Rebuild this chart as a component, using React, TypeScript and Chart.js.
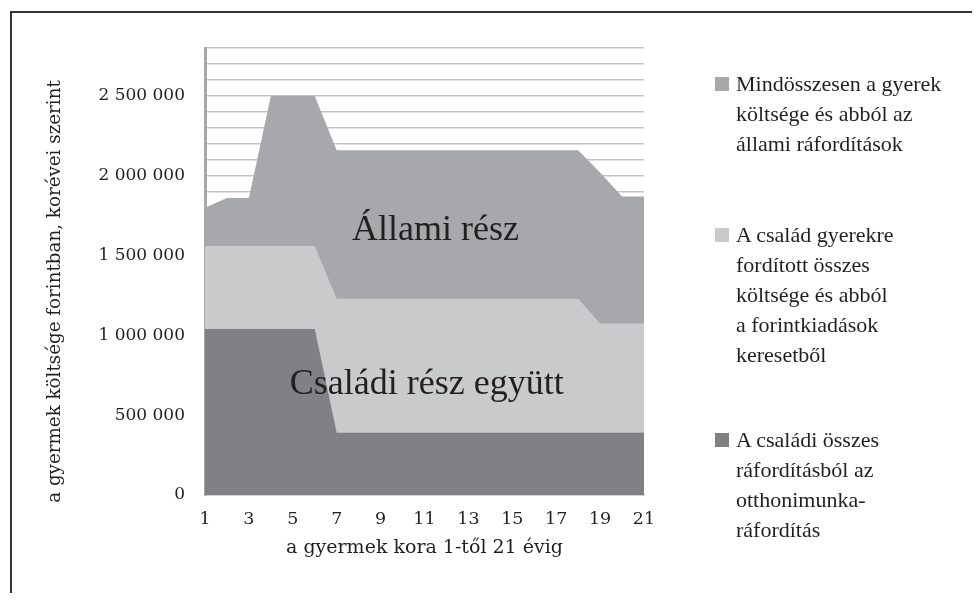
import React, { useEffect, useRef } from 'react';
import { Chart, registerables } from 'chart.js';

Chart.register(...registerables);

// ---- data ----
const ages = ['1', '2', '3', '4', '5', '6', '7', '8', '9', '10', '11', '12', '13', '14', '15', '16', '17', '18', '19', '20', '21'];

// Mindösszesen a gyerek költsége és abból az állami ráfordítások
const totalCost = [1800000, 1860000, 1860000, 2500000, 2500000, 2500000, 2160000, 2160000, 2160000, 2160000, 2160000, 2160000, 2160000, 2160000, 2160000, 2160000, 2160000, 2160000, 2020000, 1870000, 1870000];

// A család gyerekre fordított összes költsége és abból a forintkiadások keresetből
const familyCost = [1560000, 1560000, 1560000, 1560000, 1560000, 1560000, 1230000, 1230000, 1230000, 1230000, 1230000, 1230000, 1230000, 1230000, 1230000, 1230000, 1230000, 1230000, 1075000, 1075000, 1075000];

// A családi összes ráfordításból az otthonimunka-ráfordítás
const homeWork = [1040000, 1040000, 1040000, 1040000, 1040000, 1040000, 390000, 390000, 390000, 390000, 390000, 390000, 390000, 390000, 390000, 390000, 390000, 390000, 390000, 390000, 390000];

const yMax = 2800000;
const yStep = 100000;
const yLabelEvery = 500000;

const yTitle = 'a gyermek költsége forintban, korévei szerint';
const xTitle = 'a gyermek kora 1-től 21 évig';

const areaLabels = [
  { text: 'Állami rész', x: 10.5, y: 1600000 },
  { text: 'Családi rész együtt', x: 10.1, y: 630000 },
];

const legendItems = [
  { color: '#a7a8ab', lines: ['Mindösszesen a gyerek', 'költsége és abból az', 'állami ráfordítások'] },
  { color: '#c9cacc', lines: ['A család gyerekre', 'fordított összes', 'költsége és abból', 'a forintkiadások', 'keresetből'] },
  { color: '#808184', lines: ['A családi összes', 'ráfordításból az', 'otthonimunka-', 'ráfordítás'] },
];

const TEXT = '#231f20';
const TICK_FONT = '"DejaVu Serif", serif';
const LABEL_FONT = '"Liberation Serif", serif';

function formatHu(v: number): string {
  return String(Math.round(v)).replace(/\B(?=(\d{3})+(?!\d))/g, ' ');
}

const labelsPlugin = {
  id: 'areaLabels',
  afterDatasetsDraw(chart: any) {
    const { ctx, scales, chartArea } = chart;
    const x = scales.x;
    const y = scales.y;
    ctx.save();
    ctx.fillStyle = TEXT;
    ctx.font = '36px ' + LABEL_FONT;
    ctx.textAlign = 'center';
    ctx.textBaseline = 'alphabetic';
    for (const a of areaLabels) {
      ctx.fillText(a.text, x.getPixelForValue(a.x), y.getPixelForValue(a.y));
    }
    // rotated y-axis title
    ctx.font = '18.3px ' + TICK_FONT;
    ctx.textBaseline = 'middle';
    ctx.translate(y.left + 43, (chartArea.top + chartArea.bottom) / 2 + 20);
    ctx.rotate(-Math.PI / 2);
    ctx.fillText(yTitle, 0, 0);
    ctx.restore();
  },
};

export default function App() {
  const ref = useRef<HTMLCanvasElement | null>(null);

  useEffect(() => {
    if (!ref.current) return;
    const chart = new Chart(ref.current, {
      type: 'line',
      data: {
        labels: ages,
        datasets: [
          {
            label: legendItems[2].lines.join(' '),
            data: homeWork,
            backgroundColor: legendItems[2].color,
            borderWidth: 0,
            pointRadius: 0,
            fill: 'origin',
            tension: 0,
          },
          {
            label: legendItems[1].lines.join(' '),
            data: familyCost,
            backgroundColor: legendItems[1].color,
            borderWidth: 0,
            pointRadius: 0,
            fill: 'origin',
            tension: 0,
          },
          {
            label: legendItems[0].lines.join(' '),
            data: totalCost,
            backgroundColor: legendItems[0].color,
            borderWidth: 0,
            pointRadius: 0,
            fill: 'origin',
            tension: 0,
          },
        ],
      },
      options: {
        responsive: false,
        animation: false,
        layout: { padding: { left: 0, top: 35, right: 318, bottom: 0 } },
        plugins: {
          legend: { display: false },
          tooltip: { enabled: false },
          title: { display: false },
        },
        scales: {
          x: {
            type: 'category',
            offset: false,
            grid: { display: false, drawTicks: false },
            border: { display: true, color: '#d2d2d2', width: 2 },
            ticks: {
              autoSkip: false,
              maxRotation: 0,
              padding: 14,
              color: TEXT,
              font: { family: TICK_FONT, size: 17.5 },
              callback: (_v: any, i: number) => (i % 2 === 0 ? ages[i] : ''),
            },
            title: {
              display: true,
              text: xTitle,
              color: TEXT,
              font: { family: TICK_FONT, size: 19 },
              padding: { top: 0, bottom: 24 },
            },
            afterFit: (s: any) => {
              s.height = 88;
            },
          },
          y: {
            min: 0,
            max: yMax,
            grid: { color: '#c4c4c4', lineWidth: 1.5, drawTicks: false },
            border: { display: true, color: '#a8a8a8', width: 3 },
            ticks: {
              stepSize: yStep,
              autoSkip: false,
              padding: 20,
              color: TEXT,
              font: { family: TICK_FONT, size: 17 },
              callback: (v: any) => (Number(v) % yLabelEvery === 0 ? formatHu(Number(v)) : ''),
            },
            afterFit: (s: any) => {
              s.width = 193;
            },
          },
        },
      },
      plugins: [labelsPlugin],
    });
    return () => chart.destroy();
  }, []);

  return (
    <div style={{ paddingLeft: 2, paddingTop: 3 }}>
      <div
        style={{
          position: 'relative',
          width: 962,
          height: 582,
          borderTop: '2px solid #333',
          borderLeft: '2px solid #333',
          boxSizing: 'border-box',
          overflow: 'hidden',
        }}
      >
        <canvas ref={ref} width={950} height={570} style={{ position: 'absolute', left: 0, top: 0, width: 950, height: 570 }} />
        {legendItems.map((item, i) => (
          <div
            key={i}
            style={{
              position: 'absolute',
              left: 703,
              top: [56, 207, 412][i],
              display: 'flex',
              alignItems: 'flex-start',
              fontFamily: LABEL_FONT,
              fontSize: 22,
              lineHeight: '30px',
              color: TEXT,
            }}
          >
            <div style={{ width: 14, height: 14, marginTop: 8, marginRight: 7, background: item.color, flex: 'none' }} />
            <div>
              {item.lines.map((l, j) => (
                <div key={j} style={{ whiteSpace: 'nowrap' }}>
                  {l}
                </div>
              ))}
            </div>
          </div>
        ))}
      </div>
    </div>
  );
}
